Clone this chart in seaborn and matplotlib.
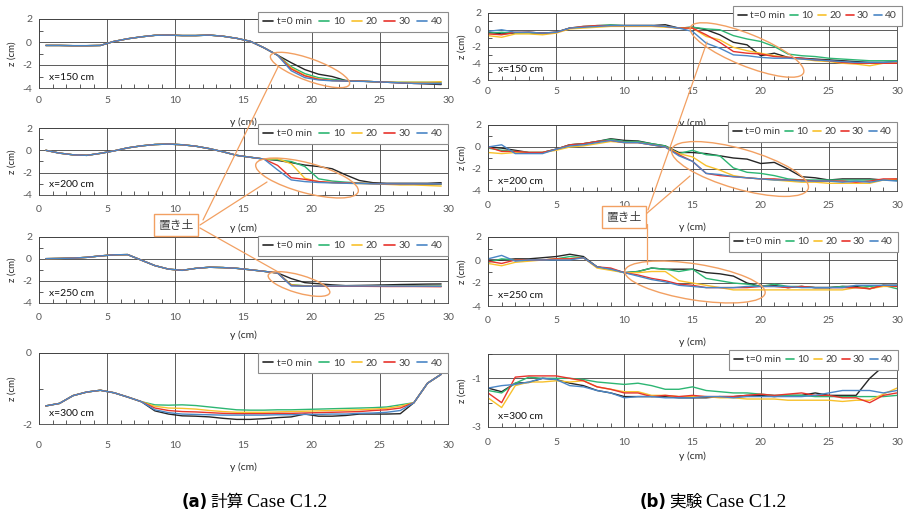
import numpy as np
import pandas as pd
import matplotlib
matplotlib.use("Agg")
import matplotlib.pyplot as plt
import seaborn as sns
from matplotlib.patches import Ellipse
from matplotlib.lines import Line2D
from matplotlib.ticker import MultipleLocator
from matplotlib.transforms import Affine2D

# ------------------------------------------------------------------ data
series = ["t=0 min", "10", "20", "30", "40"]
series_colors = ["#262626", "#2db673", "#f8c12c", "#e8342c", "#4a86c6"]

y_calc = [0.5, 1.5, 2.5, 3.5, 4.5, 5.5, 6.5, 7.5, 8.5, 9.5, 10.5, 11.5, 12.5, 13.5, 14.5,
          15.5, 16.5, 17.5, 18.5, 19.5, 20.5, 21.5, 22.5, 23.5, 24.5, 25.5, 26.5, 27.5, 28.5, 29.5]
y_exp = [0, 1, 2, 3, 4, 5, 6, 7, 8, 9, 10, 11, 12, 13, 14, 15, 16, 17, 18, 19, 20,
         21, 22, 23, 24, 25, 26, 27, 28, 29, 30]

# (a) computed, x=150 cm : common part (0.5-17.5) + per-series tail (18.5-29.5)
c150_base = [-0.3, -0.3, -0.32, -0.32, -0.3, 0.05, 0.28, 0.45, 0.58, 0.6, 0.56, 0.56, 0.6, 0.5, 0.32, 0.06, -0.5, -1.15]
c150_t0 = [-1.8, -2.4, -2.8, -3.0, -3.35, -3.4, -3.45, -3.5, -3.55, -3.6, -3.65, -3.7]
c150_t10 = [-2.15, -2.75, -3.1, -3.25, -3.35, -3.4, -3.45, -3.5, -3.5, -3.5, -3.5, -3.5]
c150_t20 = [-2.25, -2.9, -3.2, -3.35, -3.4, -3.4, -3.45, -3.5, -3.5, -3.5, -3.5, -3.45]
c150_t30 = [-2.35, -2.95, -3.25, -3.35, -3.4, -3.4, -3.45, -3.5, -3.55, -3.6, -3.6, -3.6]
c150_t40 = [-2.5, -3.1, -3.3, -3.38, -3.4, -3.42, -3.45, -3.5, -3.55, -3.6, -3.6, -3.62]

# (a) computed, x=200 cm : common (0.5-16.5) + tail (17.5-29.5)
c200_base = [0.0, -0.25, -0.4, -0.45, -0.27, -0.05, 0.22, 0.4, 0.52, 0.56, 0.5, 0.37, 0.15, -0.13, -0.45, -0.62, -0.78]
c200_t0 = [-0.9, -1.1, -1.32, -1.45, -1.65, -2.2, -2.7, -2.9, -2.95, -2.95, -2.95, -2.95, -2.9]
c200_t10 = [-0.85, -1.0, -1.45, -2.55, -2.75, -2.85, -2.92, -2.98, -3.02, -3.05, -3.05, -3.05, -3.05]
c200_t20 = [-0.75, -1.2, -2.5, -2.8, -2.9, -2.95, -2.98, -3.0, -3.05, -3.1, -3.1, -3.15, -3.2]
c200_t30 = [-1.35, -2.45, -2.6, -2.8, -2.88, -2.92, -2.95, -2.98, -3.0, -3.0, -3.0, -3.0, -3.0]
c200_t40 = [-1.75, -2.65, -2.8, -2.88, -2.92, -2.95, -2.97, -3.0, -3.0, -3.0, -3.0, -3.0, -3.0]

# (a) computed, x=250 cm : common (0.5-17.5) + tail (18.5-29.5)
c250_base = [0.03, 0.05, 0.08, 0.15, 0.28, 0.38, 0.4, -0.1, -0.6, -0.92, -1.03, -0.85, -0.75, -0.78, -0.85, -0.98, -1.12, -1.27]
c250_t0 = [-1.78, -2.15, -2.25, -2.35, -2.42, -2.4, -2.38, -2.35, -2.32, -2.3, -2.28, -2.27]
c250_t10 = [-2.33, -2.43, -2.45, -2.45, -2.45, -2.45, -2.45, -2.45, -2.45, -2.45, -2.45, -2.45]
c250_t20 = [-2.35, -2.45, -2.45, -2.45, -2.45, -2.45, -2.45, -2.46, -2.46, -2.47, -2.47, -2.48]
c250_t30 = [-2.4, -2.48, -2.48, -2.48, -2.48, -2.48, -2.49, -2.5, -2.5, -2.5, -2.51, -2.52]
c250_t40 = [-2.45, -2.47, -2.46, -2.45, -2.45, -2.45, -2.45, -2.46, -2.46, -2.47, -2.47, -2.48]

# (a) computed, x=300 cm : common (0.5-7.5) + tail (8.5-26.5) + common end (27.5-29.5)
c300_base = [-1.49, -1.42, -1.2, -1.1, -1.05, -1.12, -1.24, -1.37]
c300_t0 = [-1.63, -1.72, -1.77, -1.78, -1.8, -1.84, -1.87, -1.87, -1.85, -1.82, -1.8, -1.72, -1.78, -1.78, -1.76, -1.72, -1.72, -1.72, -1.71]
c300_t10 = [-1.46, -1.47, -1.46, -1.48, -1.52, -1.56, -1.6, -1.61, -1.61, -1.6, -1.6, -1.59, -1.58, -1.57, -1.56, -1.55, -1.54, -1.52, -1.46]
c300_t20 = [-1.5, -1.55, -1.56, -1.58, -1.62, -1.65, -1.67, -1.67, -1.67, -1.66, -1.65, -1.64, -1.63, -1.62, -1.61, -1.6, -1.58, -1.56, -1.5]
c300_t30 = [-1.55, -1.62, -1.65, -1.66, -1.68, -1.7, -1.71, -1.71, -1.71, -1.7, -1.7, -1.69, -1.68, -1.67, -1.66, -1.65, -1.62, -1.6, -1.55]
c300_t40 = [-1.6, -1.68, -1.72, -1.73, -1.74, -1.75, -1.75, -1.75, -1.75, -1.74, -1.74, -1.73, -1.73, -1.72, -1.72, -1.7, -1.69, -1.67, -1.62]
c300_end = [-1.4, -0.85, -0.6]

# (b) experiment, x=150 cm
e150_t0 = [-0.3, -0.5, -0.4, -0.3, -0.4, -0.3, 0.2, 0.3, 0.4, 0.5, 0.5, 0.5, 0.5, 0.6, 0.2, 0.3, 0.0, -0.6, -1.5, -1.8, -3.1, -2.8, -3.3, -3.4, -3.5, -3.6, -3.7, -3.8, -3.9, -3.9, -3.8]
e150_t10 = [-0.4, -0.3, -0.4, -0.4, -0.5, -0.3, 0.2, 0.4, 0.5, 0.6, 0.5, 0.5, 0.5, 0.4, 0.2, 0.3, 0.1, 0.0, -0.7, -1.1, -1.4, -2.0, -2.9, -3.1, -3.2, -3.4, -3.5, -3.6, -3.7, -3.7, -3.7]
e150_t20 = [-0.7, -0.9, -0.5, -0.5, -0.6, -0.4, 0.1, 0.2, 0.3, 0.4, 0.4, 0.4, 0.4, 0.3, 0.2, 0.2, -0.8, -1.2, -2.1, -2.5, -2.8, -3.1, -3.3, -3.5, -3.7, -3.8, -4.0, -4.1, -4.3, -4.0, -3.9]
e150_t30 = [-0.5, -0.6, -0.3, -0.3, -0.4, -0.3, 0.2, 0.4, 0.5, 0.5, 0.5, 0.5, 0.5, 0.4, 0.2, 0.2, -0.6, -1.5, -2.6, -2.8, -2.9, -3.2, -3.3, -3.4, -3.6, -3.7, -3.9, -4.0, -4.0, -4.0, -4.0]
e150_t40 = [-0.2, 0.0, -0.3, -0.3, -0.4, -0.3, 0.2, 0.3, 0.4, 0.5, 0.5, 0.5, 0.5, 0.4, 0.2, -0.2, -1.6, -2.2, -3.0, -3.1, -3.3, -3.4, -3.4, -3.5, -3.6, -3.7, -3.8, -3.9, -3.9, -3.9, -3.8]

# (b) experiment, x=200 cm
e200_t0 = [0.0, -0.1, -0.3, -0.5, -0.5, -0.2, 0.2, 0.3, 0.5, 0.75, 0.6, 0.55, 0.3, 0.1, -0.5, -0.5, -0.6, -0.8, -1.0, -1.1, -1.5, -1.4, -2.0, -2.7, -2.8, -3.0, -2.9, -2.9, -2.9, -3.0, -3.0]
e200_t10 = [-0.1, -0.3, -0.4, -0.5, -0.5, -0.2, 0.2, 0.3, 0.5, 0.7, 0.5, 0.5, 0.3, 0.1, -0.6, -0.3, -0.7, -0.8, -1.9, -2.3, -2.4, -2.6, -2.9, -3.0, -3.0, -3.0, -3.0, -3.0, -3.0, -3.0, -3.0]
e200_t20 = [-0.5, -0.6, -0.5, -0.5, -0.5, -0.3, 0.0, 0.1, 0.3, 0.5, 0.4, 0.4, 0.2, 0.0, -0.6, -0.9, -1.7, -2.1, -2.6, -2.8, -2.9, -3.0, -3.1, -3.2, -3.2, -3.3, -3.3, -3.3, -3.3, -3.0, -2.9]
e200_t30 = [0.0, -0.4, -0.4, -0.5, -0.5, -0.2, 0.2, 0.3, 0.5, 0.6, 0.4, 0.4, 0.2, 0.0, -0.7, -1.3, -2.4, -2.6, -2.7, -2.8, -2.9, -2.9, -3.0, -3.0, -3.1, -3.1, -3.1, -3.2, -3.1, -2.9, -2.9]
e200_t40 = [0.0, 0.2, -0.6, -0.6, -0.6, -0.2, 0.1, 0.2, 0.4, 0.6, 0.4, 0.4, 0.2, 0.0, -0.8, -1.3, -2.4, -2.5, -2.7, -2.8, -2.9, -3.0, -3.0, -3.1, -3.1, -3.1, -3.2, -3.1, -3.2, -3.0, -3.1]

# (b) experiment, x=250 cm
e250_t0 = [0.0, 0.0, 0.1, 0.1, 0.2, 0.3, 0.5, 0.3, -0.6, -0.8, -1.1, -1.0, -0.7, -0.8, -0.8, -0.8, -1.1, -1.2, -1.4, -2.0, -2.3, -2.2, -2.4, -2.3, -2.4, -2.4, -2.3, -2.3, -2.5, -2.2, -2.2]
e250_t10 = [-0.2, 0.1, 0.0, 0.0, 0.0, 0.1, 0.3, 0.2, -0.6, -0.8, -1.1, -1.0, -0.7, -0.8, -1.0, -0.8, -1.6, -1.8, -2.0, -2.1, -2.3, -2.1, -2.3, -2.3, -2.4, -2.4, -2.3, -2.4, -2.3, -2.2, -2.5]
e250_t20 = [-0.3, -0.5, -0.2, -0.1, 0.0, 0.1, 0.1, 0.2, -0.7, -0.9, -1.1, -1.1, -1.0, -1.0, -1.8, -2.0, -2.2, -2.4, -2.6, -2.6, -2.6, -2.6, -2.6, -2.6, -2.6, -2.6, -2.6, -2.4, -2.5, -2.3, -2.3]
e250_t30 = [-0.1, -0.3, 0.0, 0.0, 0.0, 0.1, 0.1, 0.2, -0.6, -0.7, -1.1, -1.3, -1.6, -1.8, -2.1, -2.2, -2.4, -2.4, -2.4, -2.4, -2.3, -2.3, -2.4, -2.3, -2.4, -2.4, -2.4, -2.4, -2.5, -2.2, -2.3]
e250_t40 = [0.1, 0.4, -0.1, 0.0, 0.0, 0.0, 0.0, 0.2, -0.6, -0.8, -1.1, -1.4, -1.7, -1.9, -2.2, -2.3, -2.4, -2.4, -2.4, -2.3, -2.3, -2.3, -2.3, -2.4, -2.4, -2.4, -2.4, -2.2, -2.2, -2.2, -2.2]

# (b) experiment, x=300 cm
e300_t0 = [-1.4, -1.55, -1.2, -1.17, -1.0, -1.05, -1.2, -1.3, -1.5, -1.6, -1.75, -1.75, -1.75, -1.75, -1.8, -1.8, -1.8, -1.75, -1.75, -1.7, -1.7, -1.75, -1.7, -1.7, -1.6, -1.7, -1.7, -1.7, -1.0, -0.5, -0.3]
e300_t10 = [-1.5, -1.6, -1.2, -0.95, -1.0, -1.0, -1.0, -1.05, -1.15, -1.2, -1.25, -1.2, -1.3, -1.45, -1.45, -1.35, -1.5, -1.55, -1.6, -1.6, -1.65, -1.7, -1.7, -1.7, -1.75, -1.75, -1.75, -1.75, -1.75, -1.75, -1.7]
e300_t20 = [-1.8, -2.2, -1.3, -1.15, -1.15, -1.1, -1.15, -1.1, -1.35, -1.45, -1.55, -1.55, -1.7, -1.7, -1.75, -1.75, -1.75, -1.8, -1.8, -1.85, -1.85, -1.85, -1.9, -1.9, -1.9, -1.9, -1.95, -1.9, -1.9, -1.65, -1.4]
e300_t30 = [-1.6, -2.0, -0.95, -0.9, -0.9, -0.9, -1.0, -1.1, -1.35, -1.45, -1.6, -1.6, -1.75, -1.7, -1.75, -1.7, -1.75, -1.75, -1.75, -1.7, -1.65, -1.7, -1.65, -1.6, -1.7, -1.7, -1.8, -1.8, -2.0, -1.7, -1.6]
e300_t40 = [-1.4, -1.3, -1.25, -1.15, -1.0, -1.05, -1.3, -1.35, -1.5, -1.6, -1.8, -1.75, -1.75, -1.8, -1.8, -1.8, -1.75, -1.75, -1.8, -1.75, -1.75, -1.75, -1.75, -1.75, -1.7, -1.6, -1.5, -1.5, -1.5, -1.6, -1.5]

calc150 = [c150_base + t for t in (c150_t0, c150_t10, c150_t20, c150_t30, c150_t40)]
calc200 = [c200_base + t for t in (c200_t0, c200_t10, c200_t20, c200_t30, c200_t40)]
calc250 = [c250_base + t for t in (c250_t0, c250_t10, c250_t20, c250_t30, c250_t40)]
calc300 = [c300_base + t + c300_end for t in (c300_t0, c300_t10, c300_t20, c300_t30, c300_t40)]
exp150 = [e150_t0, e150_t10, e150_t20, e150_t30, e150_t40]
exp200 = [e200_t0, e200_t10, e200_t20, e200_t30, e200_t40]
exp250 = [e250_t0, e250_t10, e250_t20, e250_t30, e250_t40]
exp300 = [e300_t0, e300_t10, e300_t20, e300_t30, e300_t40]

# ------------------------------------------------------------------ style
sns.set_theme(style="white")
plt.rcParams["font.family"] = ["Lato", "Noto Sans CJK JP", "DejaVu Sans"]
plt.rcParams["axes.unicode_minus"] = False

W, H = 914, 516
fig = plt.figure(figsize=(W / 100, H / 100), dpi=100)
fig.patch.set_facecolor("white")

GRID = "#404040"
TICKC = "#595959"
ORANGE = "#F2A062"


def long_df(xs, cols):
    frames = [pd.DataFrame({"y": xs, "z": vals, "t": lab}) for lab, vals in zip(series, cols)]
    return pd.concat(frames, ignore_index=True)


# legend spacing per column: (columnspacing, handlelength, handletextpad)
LEG_L = (0.65, 1.0, 0.35)
LEG_R = (0.45, 0.85, 0.25)

panels = [
    # left column (computed)
    dict(box=(39, 448, 19, 88), xs=y_calc, cols=calc150, ylim=(-4, 2), yt=[-4, -2, 0, 2], tag="x=150 cm",
         leg=(448, 12), xl=0.42, pad=6, side="L", ls=LEG_L),
    dict(box=(39, 448, 128, 195), xs=y_calc, cols=calc200, ylim=(-4, 2), yt=[-4, -2, 0, 2], tag="x=200 cm",
         leg=(448, 124), xl=0.42, pad=7, side="L", ls=LEG_L),
    dict(box=(39, 448, 237, 303), xs=y_calc, cols=calc250, ylim=(-4, 2), yt=[-4, -2, 0, 2], tag="x=250 cm",
         leg=(448, 236), xl=0.41, pad=7, side="L", ls=LEG_L),
    dict(box=(39, 448, 353, 424), xs=y_calc, cols=calc300, ylim=(-2, 0), yt=[-2, 0], tag="x=300 cm",
         leg=(448, 353), xl=0.54, pad=12, side="L", ls=LEG_L),
    # right column (experiment)
    dict(box=(488, 897, 13, 80), xs=y_exp, cols=exp150, ylim=(-6, 2), yt=[-6, -4, -2, 0, 2], tag="x=150 cm",
         leg=(902, 6), xl=0.57, pad=5, side="R", ls=LEG_R),
    dict(box=(488, 897, 125, 191), xs=y_exp, cols=exp200, ylim=(-4, 2), yt=[-4, -2, 0, 2], tag="x=200 cm",
         leg=(897, 122), xl=0.47, pad=7, side="R", ls=LEG_R),
    dict(box=(488, 897, 237, 306), xs=y_exp, cols=exp250, ylim=(-4, 2), yt=[-4, -2, 0, 2], tag="x=250 cm",
         leg=(898, 232), xl=0.45, pad=7, side="R", ls=LEG_R),
    dict(box=(488, 897, 354, 427), xs=y_exp, cols=exp300, ylim=(-3, 0), yt=[-3, -1], tag="x=300 cm",
         leg=(898, 350), xl=0.33, pad=8, side="R", ls=LEG_R),
]

for p in panels:
    x0, x1, y0, y1 = p["box"]
    ax = fig.add_axes([x0 / W, 1 - y1 / H, (x1 - x0) / W, (y1 - y0) / H])
    ax.set_facecolor("white")
    df = long_df(p["xs"], p["cols"])
    sns.lineplot(data=df, x="y", y="z", hue="t", hue_order=series, palette=series_colors,
                 estimator=None, sort=False, legend=False, linewidth=1.0, ax=ax)
    ax.set_xlim(0, 30)
    ax.set_ylim(*p["ylim"])
    ax.set_xticks([0, 5, 10, 15, 20, 25, 30])
    ax.set_yticks(p["yt"])
    ax.xaxis.set_minor_locator(MultipleLocator(1))
    ax.yaxis.set_minor_locator(MultipleLocator(1))
    ax.grid(True, which="major", color=GRID, linewidth=0.6)
    ax.set_axisbelow(True)
    ax.tick_params(which="major", length=0, labelsize=7.5, labelcolor=TICKC)
    ax.tick_params(axis="x", which="major", pad=p["pad"])
    ax.tick_params(axis="y", which="major", pad=5)
    ax.tick_params(which="minor", direction="in", length=3, width=0.6, color=GRID,
                   bottom=True, left=True, top=False, right=False)
    for s in ax.spines.values():
        s.set_color(GRID)
        s.set_linewidth(0.6)
    ax.set_xlabel("y (cm)", fontsize=7.5, color="#262626")
    ax.xaxis.set_label_coords(0.5, -p["xl"])
    ax.set_ylabel("z (cm)", fontsize=7, color="#262626")
    ax.yaxis.set_label_coords(-0.056 if p["side"] == "L" else -0.052, 0.5)
    ax.text(0.025, 0.15, p["tag"], transform=ax.transAxes, fontsize=7.5, va="center", ha="left",
            color="#111111")
    handles = [Line2D([], [], color=c, lw=1.2) for c in series_colors]
    cs, hl, htp = p["ls"]
    leg = ax.legend(handles, series, loc="upper right",
                    bbox_to_anchor=(p["leg"][0] / W, 1 - p["leg"][1] / H),
                    bbox_transform=fig.transFigure, ncol=5, fontsize=7.5, frameon=True,
                    fancybox=False, edgecolor="#8c8c8c", framealpha=1.0,
                    handlelength=hl, handletextpad=htp,
                    columnspacing=cs, borderpad=0.5, borderaxespad=0)
    leg.get_frame().set_linewidth(0.8)
    for t in leg.get_texts():
        t.set_color("#404040")

# ------------------------------------------------------------------ orange annotations
pxT = Affine2D().scale(1 / W, 1 / H) + fig.transFigure


def P(x, y):
    return (x, H - y)


ellipses = [
    (310, 70, 84, 22, -20),
    (307, 178, 106, 30, -15),
    (299, 284, 64, 18, -16),
    (747, 50, 122, 32, -22),
    (740, 169, 142, 40, -16),
    (695, 282, 142, 36, -9),
]
for cx, cy, w, h, ang in ellipses:
    fig.add_artist(Ellipse(P(cx, cy), w, h, angle=ang, transform=pxT, fill=False,
                           edgecolor=ORANGE, linewidth=1.0, zorder=5))

leaders = [
    (203, 220, 278, 67),
    (200, 225, 267, 182),
    (200, 228, 280, 273),
    (648, 210, 707, 42),
    (646, 214, 690, 176),
    (647, 224, 647, 264),
]
for xa, ya, xb, yb in leaders:
    fig.add_artist(Line2D([xa, xb], [H - ya, H - yb], transform=pxT, color=ORANGE,
                          linewidth=0.9, zorder=5))

for cx, cy in [(176, 225), (624, 217)]:
    fig.text(cx / W, 1 - cy / H, "置き土", ha="center", va="center", fontsize=8.5,
             family=["Noto Sans CJK JP"], color="#404040", zorder=6,
             bbox=dict(boxstyle="square,pad=0.35", fc="white", ec=ORANGE, lw=1.0))

# ------------------------------------------------------------------ captions
fig.canvas.draw()
rend = fig.canvas.get_renderer()


def caption(x, base_y, parts):
    for txt, kw, gap in parts:
        t = fig.text(x / W, 1 - base_y / H, txt, ha="left", va="baseline", color="black", **kw)
        bb = t.get_window_extent(renderer=rend)
        x += bb.width + gap


caption(182, 507, [
    ("(a)", dict(fontsize=12, fontweight="bold", family=["DejaVu Sans"]), 2),
    ("計算", dict(fontsize=12, family=["Noto Sans CJK JP"]), 4),
    ("Case C1.2", dict(fontsize=14, family=["Liberation Serif"]), 0),
])
caption(640, 507, [
    ("(b)", dict(fontsize=12, fontweight="bold", family=["DejaVu Sans"]), 2),
    ("実験", dict(fontsize=12, family=["Noto Sans CJK JP"]), 4),
    ("Case C1.2", dict(fontsize=14, family=["Liberation Serif"]), 0),
])

fig.savefig("out.png", dpi=100, facecolor="white")
